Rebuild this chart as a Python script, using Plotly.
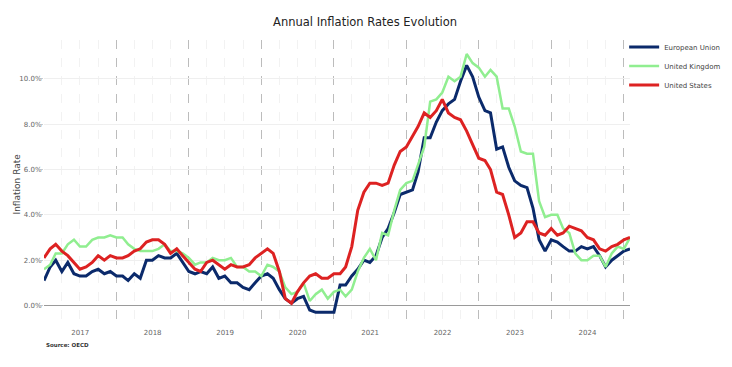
import pandas as pd
import plotly.graph_objects as go

# Monthly observations (98 points) plotted from Jan 2017 onwards
months = pd.date_range("2017-01-01", periods=98, freq="MS")

eu = [1.1,
      1.7, 2.0, 1.5, 1.9, 1.4, 1.3, 1.3, 1.5, 1.6, 1.4, 1.5, 1.3,
      1.3, 1.1, 1.4, 1.2, 2.0, 2.0, 2.2, 2.1, 2.1, 2.3, 1.9, 1.5,
      1.4, 1.5, 1.4, 1.7, 1.2, 1.3, 1.0, 1.0, 0.8, 0.7, 1.0, 1.3,
      1.4, 1.2, 0.7, 0.3, 0.1, 0.3, 0.4, -0.2, -0.3, -0.3, -0.3, -0.3,
      0.9, 0.9, 1.3, 1.6, 2.0, 1.9, 2.2, 3.0, 3.4, 4.1, 4.9, 5.0,
      5.1, 5.9, 7.4, 7.4, 8.1, 8.6, 8.9, 9.1, 9.9, 10.6, 10.1, 9.2,
      8.6, 8.5, 6.9, 7.0, 6.1, 5.5, 5.3, 5.2, 4.3, 2.9, 2.4, 2.9,
      2.8, 2.6, 2.4, 2.4, 2.6, 2.5, 2.6, 2.2, 1.7, 2.0, 2.2, 2.4,
      2.5]

uk = [1.6,
      1.8, 2.3, 2.3, 2.7, 2.9, 2.6, 2.6, 2.9, 3.0, 3.0, 3.1, 3.0,
      3.0, 2.7, 2.5, 2.4, 2.4, 2.4, 2.5, 2.7, 2.4, 2.4, 2.3, 2.1,
      1.8, 1.9, 1.9, 2.1, 2.0, 2.0, 2.1, 1.7, 1.7, 1.5, 1.5, 1.3,
      1.8, 1.7, 1.5, 0.8, 0.5, 0.6, 1.0, 0.2, 0.5, 0.7, 0.3, 0.6,
      0.7, 0.4, 0.7, 1.5, 2.1, 2.5, 2.0, 3.2, 3.1, 4.2, 5.1, 5.4,
      5.5, 6.2, 7.0, 9.0, 9.1, 9.4, 10.1, 9.9, 10.1, 11.1, 10.7, 10.5,
      10.1, 10.4, 10.1, 8.7, 8.7, 7.9, 6.8, 6.7, 6.7, 4.6, 3.9, 4.0,
      4.0, 3.4, 3.2, 2.3, 2.0, 2.0, 2.2, 2.2, 1.7, 2.3, 2.6, 2.5,
      3.0]

us = [2.1,
      2.5, 2.7, 2.4, 2.2, 1.9, 1.6, 1.7, 1.9, 2.2, 2.0, 2.2, 2.1,
      2.1, 2.2, 2.4, 2.5, 2.8, 2.9, 2.9, 2.7, 2.3, 2.5, 2.2, 1.9,
      1.6, 1.5, 1.9, 2.0, 1.8, 1.6, 1.8, 1.7, 1.7, 1.8, 2.1, 2.3,
      2.5, 2.3, 1.5, 0.3, 0.1, 0.6, 1.0, 1.3, 1.4, 1.2, 1.2, 1.4,
      1.4, 1.7, 2.6, 4.2, 5.0, 5.4, 5.4, 5.3, 5.4, 6.2, 6.8, 7.0,
      7.5, 7.9, 8.5, 8.3, 8.6, 9.1, 8.5, 8.3, 8.2, 7.7, 7.1, 6.5,
      6.4, 6.0, 5.0, 4.9, 4.0, 3.0, 3.2, 3.7, 3.7, 3.2, 3.1, 3.4,
      3.1, 3.2, 3.5, 3.4, 3.3, 3.0, 2.9, 2.5, 2.4, 2.6, 2.7, 2.9,
      3.0]

series_names = ["European Union", "United Kingdom", "United States"]
series_values = [eu, uk, us]
series_colors = ["#0b2a6b", "#90ee90", "#dd2222"]
series_widths = [3, 2.5, 3]

FONT = "Verdana, DejaVu Sans, sans-serif"
W, H = 724, 359  # page body has an 8px default margin

fig = go.Figure()
for name, vals, col, w in zip(series_names, series_values, series_colors, series_widths):
    fig.add_trace(go.Scatter(x=months, y=vals, mode="lines", name=name,
                             line=dict(color=col, width=w)))

fig.update_layout(
    width=W, height=H,
    margin=dict(l=36, r=102, t=32, b=40, autoexpand=False),
    paper_bgcolor="white", plot_bgcolor="white",
    font=dict(family=FONT, color="#444"),
    title=dict(text="Annual Inflation Rates Evolution", x=357 / W, xref="container",
               xanchor="center", y=1 - 14 / H, yref="container", yanchor="middle",
               font=dict(size=11.5, color="#222", family=FONT)),
    legend=dict(x=0.99, xanchor="left", y=1.026, yanchor="top",
                font=dict(size=7, color="#444", family=FONT),
                bgcolor="rgba(0,0,0,0)"),
    showlegend=True,
)

fig.update_xaxes(
    type="date", range=["2017-01-01", "2025-02-01"], automargin=False,
    dtick="M12", tick0="2017-01-01", ticklabelmode="period", tickformat="%Y",
    showgrid=True, gridcolor="#bcbcbc", griddash="dash", gridwidth=1,
    minor=dict(dtick="M3", showgrid=True, gridcolor="#f2f2f2", gridwidth=1),
    zeroline=False, showline=False, ticks="",
    tickfont=dict(size=7, color="#666", family=FONT),
)

fig.update_yaxes(
    range=[-0.95, 11.72], dtick=2, tick0=0, tickformat=".1f", ticksuffix="%",
    automargin=False,
    showgrid=True, gridcolor="#efefef", gridwidth=1,
    zeroline=True, zerolinecolor="#9a9a9a", zerolinewidth=1,
    ticks="outside", ticklen=2, tickcolor="#cccccc", ticklabelstandoff=-2,
    showline=False,
    tickfont=dict(size=7, color="#666", family=FONT),
)

fig.add_annotation(text="Inflation Rate", textangle=-90, xref="paper", yref="paper",
                   x=-28 / 586, y=0.5, xanchor="center", yanchor="middle", showarrow=False,
                   font=dict(size=9, color="#444", family=FONT))

fig.add_annotation(text="<b>Source: OECD</b>", xref="paper", yref="paper",
                   x=0, y=-0.063, xanchor="left", yanchor="middle", showarrow=False,
                   font=dict(size=5.5, color="#333", family=FONT))

fig.write_html("out.html")
